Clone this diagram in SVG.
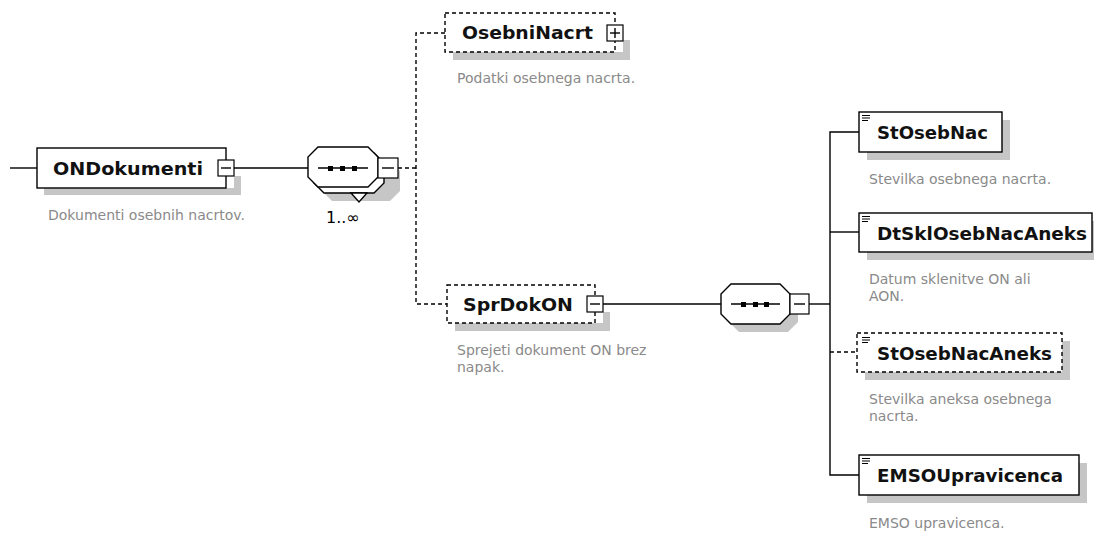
<svg xmlns="http://www.w3.org/2000/svg" width="1094" height="533" viewBox="0 0 1094 533">
<style>
.bg{fill:#fff}
.box{fill:#fff;stroke:#000;stroke-width:1.4}
.dbox{fill:#fff;stroke:#000;stroke-width:1.4;stroke-dasharray:4 3}
.sh{fill:#c6c6c6}
.btn{fill:#fff;stroke:#000;stroke-width:1.2}
.ln{stroke:#000;stroke-width:1.4;fill:none}
.dln{stroke:#000;stroke-width:1.4;fill:none;stroke-dasharray:4 3}
.lbl{font-family:"DejaVu Sans","Liberation Sans",sans-serif;font-weight:bold;font-size:18px;fill:#111}
.desc{font-family:"DejaVu Sans","Liberation Sans",sans-serif;font-size:14px;fill:#8a8a8a}
.mult{font-family:"DejaVu Sans","Liberation Sans",sans-serif;font-size:16px;fill:#000}
.sq{fill:#000}
.ico{stroke:#000;stroke-width:1}
</style>
<rect class="bg" x="0" y="0" width="1094" height="533"/>

<g id="connectors">
  <line class="ln" x1="10" y1="168" x2="37" y2="168"/>
  <line class="ln" x1="234" y1="168" x2="308" y2="168"/>
  <line class="dln" x1="398" y1="168" x2="416" y2="168"/>
  <path class="dln" d="M445 33 H416 V304 H447"/>
  <line class="ln" x1="603" y1="304" x2="721" y2="304"/>
  <line class="ln" x1="809" y1="304" x2="830" y2="304"/>
  <path class="ln" d="M859 132 H830 V475 H859"/>
  <line class="ln" x1="830" y1="232" x2="859" y2="232"/>
  <line class="dln" x1="830" y1="352" x2="857" y2="352"/>
</g>

<g id="ONDokumenti">
  <path class="sh" d="M44 188 H234 V176 H241 V195 H44 Z"/>
  <rect class="box" x="37" y="148" width="189" height="40"/>
  <rect class="btn" x="218" y="160" width="16" height="16"/>
  <line class="ln" x1="221" y1="168" x2="231" y2="168"/>
  <text class="lbl" x="53" y="175" textLength="150" lengthAdjust="spacingAndGlyphs">ONDokumenti</text>
  <text class="desc" x="48" y="220">Dokumenti osebnih nacrtov.</text>
</g>

<g id="seq1">
  <polygon class="sh" points="332,161 390,161 400,171 400,191 390,201 332,201 322,191 322,171"/>
  <polygon class="box" points="324,153 374,153 384,163 384,183 374,193 324,193 314,183 314,163"/>
  <polygon class="box" points="318,147 368,147 378,157 378,177 368,187 318,187 308,177 308,157"/>
  <polygon class="box" points="351,193 367,193 359,202"/>
  <line class="ln" x1="318" y1="168" x2="368" y2="168"/>
  <rect class="sq" x="328" y="166" width="5" height="5"/>
  <rect class="sq" x="340" y="166" width="5" height="5"/>
  <rect class="sq" x="352" y="166" width="5" height="5"/>
  <rect class="btn" x="378" y="158" width="20" height="20"/>
  <line class="ln" x1="382" y1="168" x2="394" y2="168"/>
  <text class="mult" x="326" y="223">1..∞</text>
</g>

<g id="OsebniNacrt">
  <path class="sh" d="M453 52 H623 V40 H630 V60 H453 Z"/>
  <rect class="dbox" x="445" y="13" width="170" height="39"/>
  <rect class="btn" x="607" y="25" width="16" height="16"/>
  <line class="ln" x1="610" y1="33" x2="620" y2="33"/>
  <line class="ln" x1="615" y1="28" x2="615" y2="38"/>
  <text class="lbl" x="462" y="39" textLength="131" lengthAdjust="spacingAndGlyphs">OsebniNacrt</text>
  <text class="desc" x="457" y="83">Podatki osebnega nacrta.</text>
</g>

<g id="SprDokON">
  <path class="sh" d="M455 323 H603 V312 H610 V331 H455 Z"/>
  <rect class="dbox" x="447" y="285" width="148" height="38"/>
  <rect class="btn" x="587" y="296" width="16" height="16"/>
  <line class="ln" x1="590" y1="304" x2="600" y2="304"/>
  <text class="lbl" x="463" y="311" textLength="110" lengthAdjust="spacingAndGlyphs">SprDokON</text>
  <text class="desc" x="457" y="355">Sprejeti dokument ON brez</text>
  <text class="desc" x="457" y="372">napak.</text>
</g>

<g id="seq2">
  <polygon class="sh" points="739,292 788,292 798,302 798,322 788,332 739,332 729,322 729,302"/>
  <polygon class="box" points="731,284 780,284 790,294 790,314 780,324 731,324 721,314 721,294"/>
  <line class="ln" x1="731" y1="304" x2="780" y2="304"/>
  <rect class="sq" x="741" y="302" width="5" height="5"/>
  <rect class="sq" x="753" y="302" width="5" height="5"/>
  <rect class="sq" x="764" y="302" width="5" height="5"/>
  <rect class="btn" x="790" y="294" width="19" height="20"/>
  <line class="ln" x1="794" y1="304" x2="805" y2="304"/>
</g>

<g id="StOsebNac">
  <rect class="sh" x="867" y="120" width="143" height="40"/>
  <rect class="box" x="859" y="112" width="143" height="40"/>
  <path class="ico" d="M862 115.5 H870 M862 118 H870 M862 120.5 H868"/>
  <text class="lbl" x="877" y="139" textLength="111" lengthAdjust="spacingAndGlyphs">StOsebNac</text>
  <text class="desc" x="869" y="184">Stevilka osebnega nacrta.</text>
</g>

<g id="DtSklOsebNacAneks">
  <rect class="sh" x="867" y="221" width="233" height="39"/>
  <rect class="box" x="859" y="213" width="233" height="39"/>
  <path class="ico" d="M862 216.5 H870 M862 219 H870 M862 221.5 H868"/>
  <text class="lbl" x="877" y="240" textLength="210" lengthAdjust="spacingAndGlyphs">DtSklOsebNacAneks</text>
  <text class="desc" x="869" y="284">Datum sklenitve ON ali</text>
  <text class="desc" x="869" y="301">AON.</text>
</g>

<g id="StOsebNacAneks">
  <rect class="sh" x="865" y="341" width="205" height="39"/>
  <rect class="dbox" x="857" y="333" width="205" height="39"/>
  <path class="ico" d="M862 337.5 H870 M862 340 H870 M862 342.5 H868"/>
  <text class="lbl" x="877" y="360" textLength="175" lengthAdjust="spacingAndGlyphs">StOsebNacAneks</text>
  <text class="desc" x="869" y="404">Stevilka aneksa osebnega</text>
  <text class="desc" x="869" y="421">nacrta.</text>
</g>

<g id="EMSOUpravicenca">
  <rect class="sh" x="867" y="463" width="220" height="40"/>
  <rect class="box" x="859" y="455" width="220" height="40"/>
  <path class="ico" d="M862 458.5 H870 M862 461 H870 M862 463.5 H868"/>
  <text class="lbl" x="877" y="482" textLength="186" lengthAdjust="spacingAndGlyphs">EMSOUpravicenca</text>
  <text class="desc" x="869" y="528">EMSO upravicenca.</text>
</g>
</svg>
